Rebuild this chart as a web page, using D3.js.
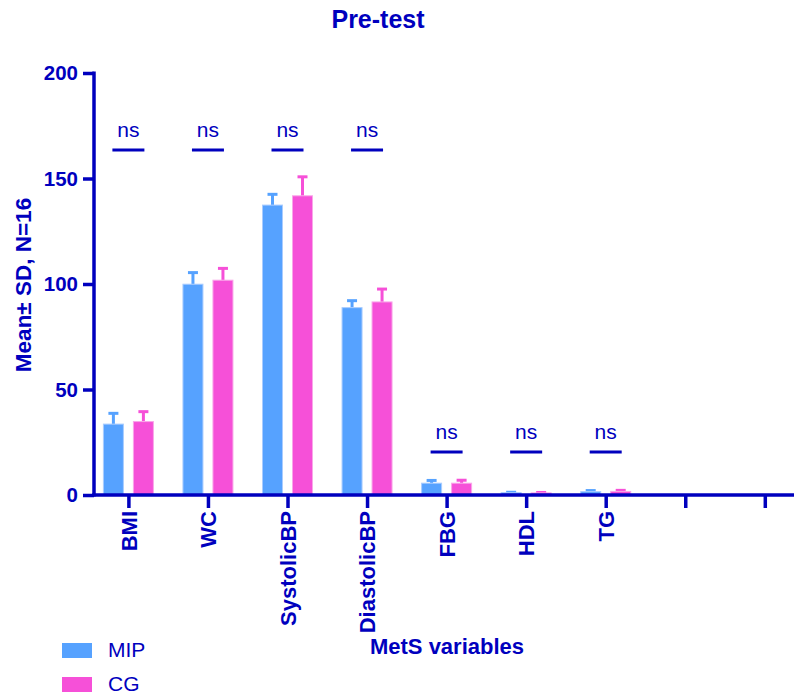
<!DOCTYPE html>
<html>
<head>
<meta charset="utf-8">
<script src="https://cdn.jsdelivr.net/npm/d3@7"></script>
<style>
  html, body { margin: 0; padding: 0; background: #fff; }
  svg { display: block; font-family: "Liberation Sans", Arial, sans-serif; }
</style>
</head>
<body>
<svg id="chart" width="794" height="697"></svg>
<script>
// MetS variables, pre-test means and SDs per group (N=16)
const categories = ["BMI", "WC", "SystolicBP", "DiastolicBP", "FBG", "HDL", "TG"];
const slots = ["BMI", "WC", "SystolicBP", "DiastolicBP", "FBG", "HDL", "TG", "_e1", "_e2"];
const mipMean = [33.6, 99.9, 137.4, 88.8, 5.6, 1.1, 1.6];
const mipSD   = [5.1, 5.5, 5.1, 3.3, 1.3, 0.2, 0.5];
const cgMean  = [34.8, 101.8, 141.8, 91.5, 5.6, 1.0, 1.7];
const cgSD    = [4.7, 5.6, 9.0, 6.1, 1.4, 0.2, 0.5];
const yTicks = [0, 50, 100, 150, 200];
const seriesNames = ["MIP", "CG"];
// significance marks: category and bracket height in data units
const sigCats = ["BMI", "WC", "SystolicBP", "DiastolicBP", "FBG", "HDL", "TG"];
const sigLevel = [163.5, 163.5, 163.5, 163.5, 20.4, 20.4, 20.4];
const sigText = ["ns", "ns", "ns", "ns", "ns", "ns", "ns"];

const INK = "#0000BE";
const COLORS = ["#56A2FF", "#F650D8"];
const EDGE = ["#A9CCFF", "#F9A6E9"];

const svg = d3.select("#chart");

const x = d3.scalePoint().domain(slots).range([128.4, 764.8]);
const y = d3.scaleLinear().domain([0, 200]).range([495, 73]);
const off = 15, barW = 20, capW = 10;

const series = [
  { name: seriesNames[0], mean: mipMean, sd: mipSD, dx: -off, color: COLORS[0], edge: EDGE[0] },
  { name: seriesNames[1], mean: cgMean, sd: cgSD, dx: off, color: COLORS[1], edge: EDGE[1] }
];

// bars with SD whiskers (upper side only)
series.forEach(s => {
  const g = svg.append("g");
  categories.forEach((c, i) => {
    const cx = x(c) + s.dx;
    const top = y(s.mean[i] + s.sd[i]);
    g.append("line")
      .attr("x1", cx).attr("x2", cx)
      .attr("y1", y(s.mean[i])).attr("y2", top)
      .attr("stroke", s.color).attr("stroke-width", 3);
    g.append("line")
      .attr("x1", cx - capW / 2).attr("x2", cx + capW / 2)
      .attr("y1", top).attr("y2", top)
      .attr("stroke", s.color).attr("stroke-width", 3);
    g.append("rect")
      .attr("x", cx - barW / 2).attr("width", barW)
      .attr("y", y(s.mean[i])).attr("height", y(0) - y(s.mean[i]))
      .attr("fill", s.color).attr("stroke", s.edge).attr("stroke-width", 1);
  });
});

// y axis
const yAxis = svg.append("g")
  .attr("transform", "translate(94,0)")
  .call(d3.axisLeft(y).tickValues(yTicks).tickSize(11).tickSizeOuter(0).tickPadding(5));
yAxis.select(".domain").remove();
yAxis.selectAll(".tick line").attr("stroke", INK).attr("stroke-width", 3.5);
yAxis.selectAll(".tick text")
  .attr("fill", INK).attr("font-size", 20.5).attr("font-weight", "bold")
  .attr("font-family", "Liberation Sans, Arial, sans-serif");
svg.append("line")
  .attr("x1", 94).attr("x2", 94).attr("y1", y(200) - 1.5).attr("y2", y(0) + 1.5)
  .attr("stroke", INK).attr("stroke-width", 3.5);

// x axis
const labelFor = d => (categories.includes(d) ? d : "");
const xAxis = svg.append("g")
  .attr("transform", `translate(0,${y(0)})`)
  .call(d3.axisBottom(x).tickSize(13).tickSizeOuter(0).tickFormat(labelFor));
xAxis.select(".domain").remove();
xAxis.selectAll(".tick line").attr("stroke", INK).attr("stroke-width", 3.5);
xAxis.selectAll(".tick text")
  .attr("fill", INK).attr("font-size", 22).attr("font-weight", "bold")
  .attr("font-family", "Liberation Sans, Arial, sans-serif")
  .attr("text-anchor", "end")
  .attr("dy", "0.35em")
  .attr("transform", "translate(0,16) rotate(-90)")
  .attr("x", 0).attr("y", 0);
svg.append("line")
  .attr("x1", 92.25).attr("x2", 794).attr("y1", y(0)).attr("y2", y(0))
  .attr("stroke", INK).attr("stroke-width", 3.5);

// significance brackets
sigCats.forEach((c, i) => {
  const yy = y(sigLevel[i]);
  svg.append("line")
    .attr("x1", x(c) - off - 1).attr("x2", x(c) + off + 1)
    .attr("y1", yy).attr("y2", yy)
    .attr("stroke", INK).attr("stroke-width", 3);
  svg.append("text")
    .attr("x", x(c)).attr("y", yy - 13)
    .attr("text-anchor", "middle")
    .attr("font-size", 21).attr("fill", INK)
    .text(sigText[i]);
});

// title and axis titles
svg.append("text")
  .attr("x", 378).attr("y", 28)
  .attr("text-anchor", "middle").attr("font-size", 25).attr("font-weight", "bold")
  .attr("fill", INK).text("Pre-test");

svg.append("text")
  .attr("transform", "translate(31,285) rotate(-90)")
  .attr("text-anchor", "middle").attr("font-size", 22.5).attr("font-weight", "bold")
  .attr("fill", INK).text("Mean\u00B1 SD, N=16");

svg.append("text")
  .attr("x", 447).attr("y", 654)
  .attr("text-anchor", "middle").attr("font-size", 22).attr("font-weight", "bold")
  .attr("fill", INK).text("MetS variables");

// legend
const legY = [643, 677];
series.forEach((s, i) => {
  svg.append("rect")
    .attr("x", 62).attr("y", legY[i]).attr("width", 30).attr("height", 15)
    .attr("fill", s.color);
  svg.append("text")
    .attr("x", 108).attr("y", legY[i] + 14)
    .attr("font-size", 21).attr("fill", INK).text(s.name);
});
</script>
</body>
</html>
